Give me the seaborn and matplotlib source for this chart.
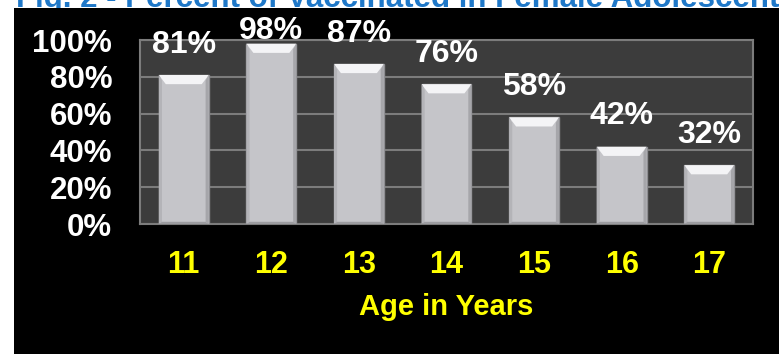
import matplotlib
matplotlib.use("Agg")
import matplotlib.pyplot as plt
import seaborn as sns
import pandas as pd
from matplotlib.patches import Rectangle, Polygon

ages = ["11", "12", "13", "14", "15", "16", "17"]
percent = [81, 98, 87, 76, 58, 42, 32]
yticks = [0, 20, 40, 60, 80, 100]
ytick_labels = ["0%", "20%", "40%", "60%", "80%", "100%"]
title = "Fig. 2 - Percent of Vaccinated in Female Adolescents"
xlabel = "Age in Years"

sns.set_theme(style="white")
plt.rcParams["font.family"] = ["Liberation Sans", "DejaVu Sans"]

df = pd.DataFrame({"age": ages, "pct": percent})

fig = plt.figure(figsize=(7.79, 3.54), dpi=100)
fig.patch.set_facecolor("white")
fig.patches.append(Rectangle((14 / 779, 0), 1 - 14 / 779, (354 - 8) / 354,
                             transform=fig.transFigure, facecolor="black",
                             edgecolor="none", zorder=-10))
fig.text(16 / 779, 1 - 6.5 / 354, title, color="#1f78c8", fontsize=22.5,
         fontweight="bold", ha="left", va="baseline", zorder=-20)

ax = fig.add_axes([140 / 779, (354 - 224) / 354, (753 - 140) / 779, (224 - 40) / 354])
ax.set_facecolor("#3c3c3c")

sns.barplot(data=df, x="age", y="pct", ax=ax, color="#c5c5c9", width=0.57,
            edgecolor="#8e8e92", linewidth=1, saturation=1, zorder=3)

bars = list(ax.patches)
# bevel highlight on each bar
for p in bars:
    x0, y0 = p.get_x(), p.get_y()
    w, h = p.get_width(), p.get_height()
    inset = w * 0.14
    cap = 5
    ax.add_patch(Polygon([(x0, y0 + h), (x0 + w, y0 + h), (x0 + w - inset, y0 + h - cap),
                          (x0 + inset, y0 + h - cap)], closed=True,
                         facecolor="#f4f4f6", edgecolor="none", zorder=4))
    ax.add_patch(Polygon([(x0, y0), (x0 + inset * 0.45, y0 + 1.2), (x0 + inset * 0.45, y0 + h - cap * 0.6),
                          (x0, y0 + h)], closed=True,
                         facecolor="#b4b4b8", edgecolor="none", zorder=4))
    ax.add_patch(Polygon([(x0 + w, y0), (x0 + w - inset * 0.45, y0 + 1.2), (x0 + w - inset * 0.45, y0 + h - cap * 0.6),
                          (x0 + w, y0 + h)], closed=True,
                         facecolor="#a6a6aa", edgecolor="none", zorder=4))
    ax.add_patch(Polygon([(x0, y0), (x0 + w, y0), (x0 + w - inset * 0.45, y0 + 1.2),
                          (x0 + inset * 0.45, y0 + 1.2)], closed=True,
                         facecolor="#9c9ca0", edgecolor="none", zorder=4))

for p, v in zip(bars, percent):
    ax.text(p.get_x() + p.get_width() / 2, min(v + 16.5, 105), f"{v}%",
            ha="center", va="center", color="white", fontsize=23,
            fontweight="bold", zorder=6, clip_on=False)

ax.set_ylim(0, 100)
ax.set_yticks(yticks)
ax.set_yticklabels(ytick_labels)
ax.yaxis.grid(True, color="#7c7c7c", linewidth=1.5, zorder=1)
ax.set_axisbelow(True)
for s in ax.spines.values():
    s.set_color("#7c7c7c")
    s.set_linewidth(1.5)

ax.tick_params(axis="y", length=0, pad=20, labelcolor="white", labelsize=22.5)
ax.tick_params(axis="x", length=0, pad=19, labelcolor="#ffff00", labelsize=22)
for lab in ax.get_yticklabels() + ax.get_xticklabels():
    lab.set_fontweight("bold")
ax.set_xlabel(xlabel, color="#ffff00", fontsize=21, fontweight="bold", labelpad=9)
ax.set_ylabel("")

fig.savefig("out.png", dpi=100, facecolor=fig.get_facecolor())
